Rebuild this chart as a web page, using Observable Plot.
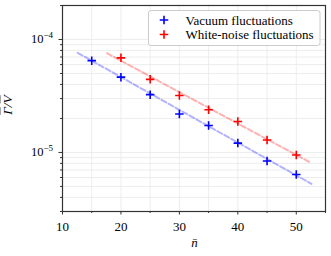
<!DOCTYPE html>
<html><head><meta charset="utf-8">
<script src="https://cdn.jsdelivr.net/npm/d3@7"></script>
<script src="https://cdn.jsdelivr.net/npm/@observablehq/plot@0.6"></script>
<style>
body{margin:0;background:#fff;}
#chart{position:relative;width:331px;height:256px;}
</style>
</head><body><div id="chart"></div>
<script>
const nbar = [15, 20, 25, 30, 35, 40, 45, 50];
const vacuum = [6.5e-5, 4.64e-5, 3.25e-5, 2.19e-5, 1.73e-5, 1.21e-5, 8.4e-6, 6.38e-6];
const nbarWhite = [20, 25, 30, 35, 40, 45, 50];
const white = [6.88e-5, 4.44e-5, 3.19e-5, 2.39e-5, 1.88e-5, 1.29e-5, 9.5e-6];
const fitVacuumX = [12.6, 52.6];
const fitVacuumY = [7.62e-5, 5.27e-6];
const fitWhiteX = [17.6, 52.4];
const fitWhiteY = [7.56e-5, 8.15e-6];
const xTicks = [10, 20, 30, 40, 50];
const xMinor = [15, 25, 35, 45, 55];
const yMajor = [1e-5, 1e-4];
const yMajorExp = ["\u22125", "\u22124"];
const yMinor = [3e-6,4e-6,5e-6,6e-6,7e-6,8e-6,9e-6,2e-5,3e-5,4e-5,5e-5,6e-5,7e-5,8e-5,9e-5,2e-4];
const seriesNames = ["Vacuum fluctuations", "White-noise fluctuations"];
const seriesColors = ["#0000ff", "#ff0000"];

const vac = nbar.map((n,i)=>({n, v: vacuum[i]}));
const wht = nbarWhite.map((n,i)=>({n, v: white[i]}));
const fv = fitVacuumX.map((n,i)=>({n, v: fitVacuumY[i]}));
const fw = fitWhiteX.map((n,i)=>({n, v: fitWhiteY[i]}));

const font = "'Liberation Serif', 'DejaVu Serif', serif";
const plusR = 2.85;

const plot = Plot.plot({
  width: 331, height: 256,
  marginLeft: 62, marginRight: 6, marginTop: 5, marginBottom: 45,
  style: {fontFamily: font, fontSize: "13px", color: "#000", background: "#fff"},
  x: {domain: [10, 55]},
  y: {type: "log", domain: [3e-6, 2e-4]},
  marks: [
    Plot.gridX([...xTicks, ...xMinor], {stroke: "#e8e8e8", strokeOpacity: 1, strokeWidth: 0.8}),
    Plot.gridY([...yMajor, ...yMinor], {stroke: "#e8e8e8", strokeOpacity: 1, strokeWidth: 0.8}),
    Plot.line(fv, {x: "n", y: "v", stroke: seriesColors[0], strokeOpacity: 0.3, strokeWidth: 2, strokeDasharray: "5.5,2.5"}),
    Plot.line(fw, {x: "n", y: "v", stroke: seriesColors[1], strokeOpacity: 0.3, strokeWidth: 2, strokeDasharray: "5.5,2.5"}),
    Plot.dot(vac, {x: "n", y: "v", symbol: "plus", r: plusR, stroke: seriesColors[0], strokeWidth: 1.6}),
    Plot.dot(wht, {x: "n", y: "v", symbol: "plus", r: plusR, stroke: seriesColors[1], strokeWidth: 1.6}),
    Plot.axisX(xTicks, {tickSize: 3.5, tickPadding: 6.5, fontSize: 13, label: null, stroke: "#333"}),
    Plot.axisX(xMinor, {tickSize: 2, tickFormat: () => "", label: null, stroke: "#333"}),
    Plot.axisY(yMajor, {tickSize: 3.5, tickFormat: () => "", label: null, stroke: "#333"}),
    Plot.axisY(yMinor, {tickSize: 2, tickFormat: () => "", label: null, stroke: "#333"}),
    Plot.frame({stroke: "#333", strokeWidth: 1.2})
  ]
});
document.getElementById("chart").appendChild(plot);

const svg = d3.select(plot);
const yScale = plot.scale("y");
// y tick labels with superscripts
yMajor.forEach((v, i) => {
  const t = svg.append("text").attr("x", 53).attr("y", yScale.apply(v)).attr("dy", "0.3em")
    .attr("text-anchor", "end").style("font-family", font).style("font-size", "12.5px");
  t.append("tspan").text("10");
  t.append("tspan").attr("dy", "-0.5em").style("font-size", "9px").text(yMajorExp[i]);
});
// axis labels
svg.append("text").attr("x", 194.5).attr("y", 246.5).attr("text-anchor", "middle")
  .style("font-family", font).style("font-size", "13px").style("font-style", "italic").text("n\u0304");
const yl = svg.append("text").attr("transform", "translate(12,105) rotate(-90)").attr("text-anchor", "middle")
  .style("font-family", font).style("font-size", "13.5px").style("font-style", "italic");
yl.append("tspan").style("text-decoration", "overline").text("\u0393");
yl.append("tspan").text("/");
yl.append("tspan").style("text-decoration", "overline").text("V");

// legend
const lg = svg.append("g").attr("transform", "translate(148.5,10.5)");
lg.append("rect").attr("x", 0).attr("y", 0).attr("width", 171.5).attr("height", 35).attr("rx", 2.5).attr("ry", 2.5)
  .attr("fill", "#ffffff").attr("stroke", "#cccccc").attr("stroke-width", 1);
seriesNames.forEach((name, i) => {
  const y = 9.5 + i * 14.5;
  lg.append("path").attr("d", d3.symbol(d3.symbolPlus, Math.PI * plusR * plusR)())
    .attr("transform", `translate(15.5,${y})`).attr("stroke", seriesColors[i]).attr("stroke-width", 1.6).attr("fill", "none");
  lg.append("text").attr("x", 37).attr("y", y).attr("dy", "0.35em").attr("text-anchor", "start")
    .style("font-family", font).style("font-size", "13px").text(name);
});
</script>
</body></html>
